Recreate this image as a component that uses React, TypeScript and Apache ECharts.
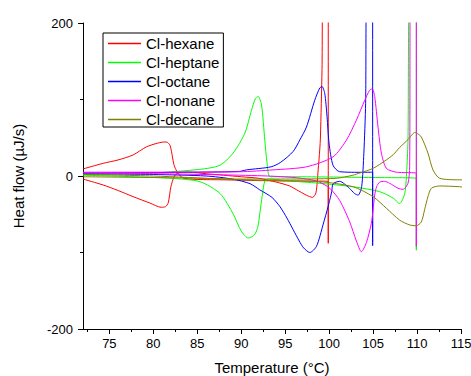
import React, { useEffect, useRef } from 'react';
import * as echarts from 'echarts';

const seriesNames = ['Cl-hexane', 'Cl-heptane', 'Cl-octane', 'Cl-nonane', 'Cl-decane'];
const seriesColors = ['#FF0000', '#00FF00', '#0000FF', '#FF00FF', '#808000'];

const xMajorTicks = [75, 80, 85, 90, 95, 100, 105, 110, 115];
const xMinorTicks = [72.5, 77.5, 82.5, 87.5, 92.5, 97.5, 102.5, 107.5, 112.5];

const hexaneHeating: number[][] = [
  [72, -4], [74.3, -11.8], [76, -19], [77.7, -27], [79.6, -35.3], [80.9, -40.9], [81.4, -40],
  [81.7, -35], [82.0, -14], [82.4, 0], [82.8, 4], [84, 5], [86, 3], [88, 1], [90, -1], [92, -3],
  [94, -8], [95.5, -13], [96.3, -18], [97.4, -25], [98.1, -28], [98.5, -22], [98.75, 8],
  [98.93, 34], [99.01, 51], [99.19, 139], [99.33, 260],
];
const hexaneCooling: number[][] = [
  [99.9, 260], [99.9, -88], [99.9, -7], [96, -6.5], [92, -6], [88, -5], [85, -4.5], [83.5, -3],
  [82.9, 2], [82.5, 10], [82.3, 17], [82.1, 30], [81.9, 40], [81.6, 44], [81.3, 44.5], [80.5, 43],
  [79.2, 38], [77.7, 27.5], [76, 21], [74.3, 16.6], [72, 9.2],
];

const heptaneHeating: number[][] = [
  [72, 1], [78, -1], [82, -3], [85.3, -7.4], [87.6, -23], [89.1, -50], [90.0, -72], [90.8, -81],
  [91.5, -77], [91.9, -66], [92.1, -50], [92.4, -25], [92.7, -6], [93.2, -4], [95, -6],
  [98.9, -9.5], [102.7, -14], [105.75, -20.5], [107.3, -29], [108.0, -36], [108.6, -23],
  [108.85, 12], [108.97, 47], [109.2, 260],
];
const heptaneCooling: number[][] = [
  [109.92, 260], [109.92, -97], [109.92, -3], [105, -2], [100, -1.3], [96, -1], [93.3, -1],
  [92.94, 17], [92.68, 47], [92.31, 93], [91.92, 104], [91.6, 101], [91.17, 86], [90.41, 56],
  [89.08, 30], [87.57, 14], [85.3, 8.7], [80, 4], [72, 2],
];

const octaneHeating: number[][] = [
  [72, 3], [80, 2], [86, 0], [89, -4], [91, -10], [92.1, -18], [93.5, -28], [94.4, -40],
  [95.2, -55], [95.9, -70], [96.6, -85], [97.1, -94], [97.8, -100], [98.56, -92], [99.3, -64],
  [99.88, -40], [100.1, -30], [100.3, -20], [100.45, -10], [101.2, -7], [102.3, -16],
  [102.9, -23], [103.3, -25], [103.7, -14], [103.95, 30], [104.15, 95], [104.3, 260],
];
const octaneCooling: number[][] = [
  [104.95, 260], [104.95, -91], [104.95, 5], [103.9, 4.8], [101.2, 5.6], [100.44, 14],
  [99.99, 43], [99.76, 78], [99.5, 108], [99.19, 117], [98.93, 115], [98.36, 99], [97.42, 64],
  [96.66, 47], [95.9, 32], [94.5, 18], [93.4, 12], [90.6, 8], [89.8, 6], [85, 5], [80, 4.5],
  [72, 4],
];

const nonaneHeating: number[][] = [
  [72, 4], [80, 3], [88, 1.5], [93, 0], [96, -2], [98, -5], [98.9, -8], [100.07, -16],
  [101.2, -32], [102.34, -60], [103.1, -85], [103.67, -99], [104.24, -87], [104.8, -62],
  [105.0, -44], [105.18, -25], [105.4, -14], [105.75, -8], [106.3, -7], [106.89, -9.5],
  [107.83, -16], [108.4, -17.4], [108.97, -9.5], [109.16, 12], [109.24, 260],
];
const nonaneCooling: number[][] = [
  [109.92, 260], [109.92, -92], [109.92, 3.5], [107.65, 5], [106.51, 10], [105.94, 30],
  [105.56, 64], [105.18, 104], [104.9, 114], [104.6, 112], [104.05, 99], [103.1, 73],
  [101.97, 47], [100.44, 25], [97.42, 12], [93.63, 8], [89.84, 5.5], [80, 5], [72, 5],
];

const decaneHeating: number[][] = [
  [72, 2], [80, 0], [88, -4], [93, -6], [98.9, -7.4], [102.7, -14], [105, -27], [106.5, -42],
  [108, -57.5], [109.16, -64], [109.92, -65], [110.49, -60], [110.86, -44], [111.24, -27],
  [111.63, -16], [112.57, -13], [114.84, -14], [115.5, -15],
];
const decaneCooling: number[][] = [
  [115.5, -5], [114.84, -5], [112.57, -3], [111.81, 8], [111.24, 30], [110.49, 51], [110.1, 55],
  [109.73, 57], [109.5, 55], [109, 48], [108, 37], [107.3, 28], [106.5, 21], [105, 10],
  [103.5, 4], [102.7, 1], [100.8, -3], [95, -4], [90, -4], [85, -3], [80, -2], [72, -1],
];

const curves = [
  hexaneHeating.concat(hexaneCooling),
  heptaneHeating.concat(heptaneCooling),
  octaneHeating.concat(octaneCooling),
  nonaneHeating.concat(nonaneCooling),
  decaneHeating.concat(decaneCooling),
];

const FONT = 'Liberation Sans, Arial, sans-serif';
const LINE_ICON = 'path://M0,0 L33,0 L33,1.3 L0,1.3 Z';

export default function App() {
  const ref = useRef<HTMLDivElement>(null);
  useEffect(() => {
    const chart = echarts.init(ref.current!, null, { renderer: 'svg' });
    const option: any = {
      animation: false,
      backgroundColor: '#ffffff',
      textStyle: { fontFamily: FONT, color: '#000' },
      grid: { left: 83, right: 10, top: 23, bottom: 47, containLabel: false, outerBoundsMode: 'none' },
      legend: {
        data: seriesNames.map((n) => ({ name: n, icon: LINE_ICON })),
        orient: 'vertical',
        left: 103,
        top: 33,
        padding: [3, 4, 0, 5],
        itemGap: 4,
        itemWidth: 33,
        itemHeight: 14,
        borderColor: '#000',
        borderWidth: 1,
        textStyle: { fontSize: 15, color: '#000', fontFamily: FONT },
      },
      xAxis: [
        {
          type: 'value',
          min: 72,
          max: 115,
          name: 'Temperature (°C)',
          nameLocation: 'middle',
          nameGap: 31,
          nameTextStyle: { fontSize: 15, color: '#000', fontFamily: FONT },
          axisLine: { show: true, onZero: false, lineStyle: { color: '#000', width: 1 } },
          axisTick: { show: true, length: 5, customValues: xMajorTicks, lineStyle: { color: '#000' } },
          axisLabel: { customValues: xMajorTicks, margin: 8, fontSize: 13, color: '#000', fontFamily: FONT },
          splitLine: { show: false },
        },
        {
          type: 'value',
          min: 72,
          max: 115,
          position: 'bottom',
          offset: 0,
          axisLine: { show: false, onZero: false },
          axisTick: { show: true, length: 3, customValues: xMinorTicks, lineStyle: { color: '#000' } },
          axisLabel: { show: false },
          splitLine: { show: false },
        },
      ],
      yAxis: {
        type: 'value',
        min: -200,
        max: 200,
        interval: 200,
        name: 'Heat flow (µJ/s)',
        nameLocation: 'middle',
        nameGap: 57,
        nameTextStyle: { fontSize: 15, color: '#000', fontFamily: FONT },
        axisLine: { show: true, onZero: false, lineStyle: { color: '#000', width: 1 } },
        axisTick: { show: true, length: 5, lineStyle: { color: '#000' } },
        minorTick: { show: true, splitNumber: 2, length: 3, lineStyle: { color: '#000' } },
        axisLabel: { margin: 10, fontSize: 13, color: '#000', fontFamily: FONT },
        splitLine: { show: false },
        minorSplitLine: { show: false },
      },
      series: curves.map((data, i) => ({
        name: seriesNames[i],
        type: 'line',
        xAxisIndex: 0,
        data,
        symbol: 'none',
        smooth: 0.25,
        clip: true,
        color: seriesColors[i],
        lineStyle: { color: seriesColors[i], width: 1 },
      })),
    };
    chart.setOption(option);
    return () => chart.dispose();
  }, []);
  return <div ref={ref} style={{ position: 'fixed', left: 0, top: 0, width: 471, height: 376 }} />;
}
